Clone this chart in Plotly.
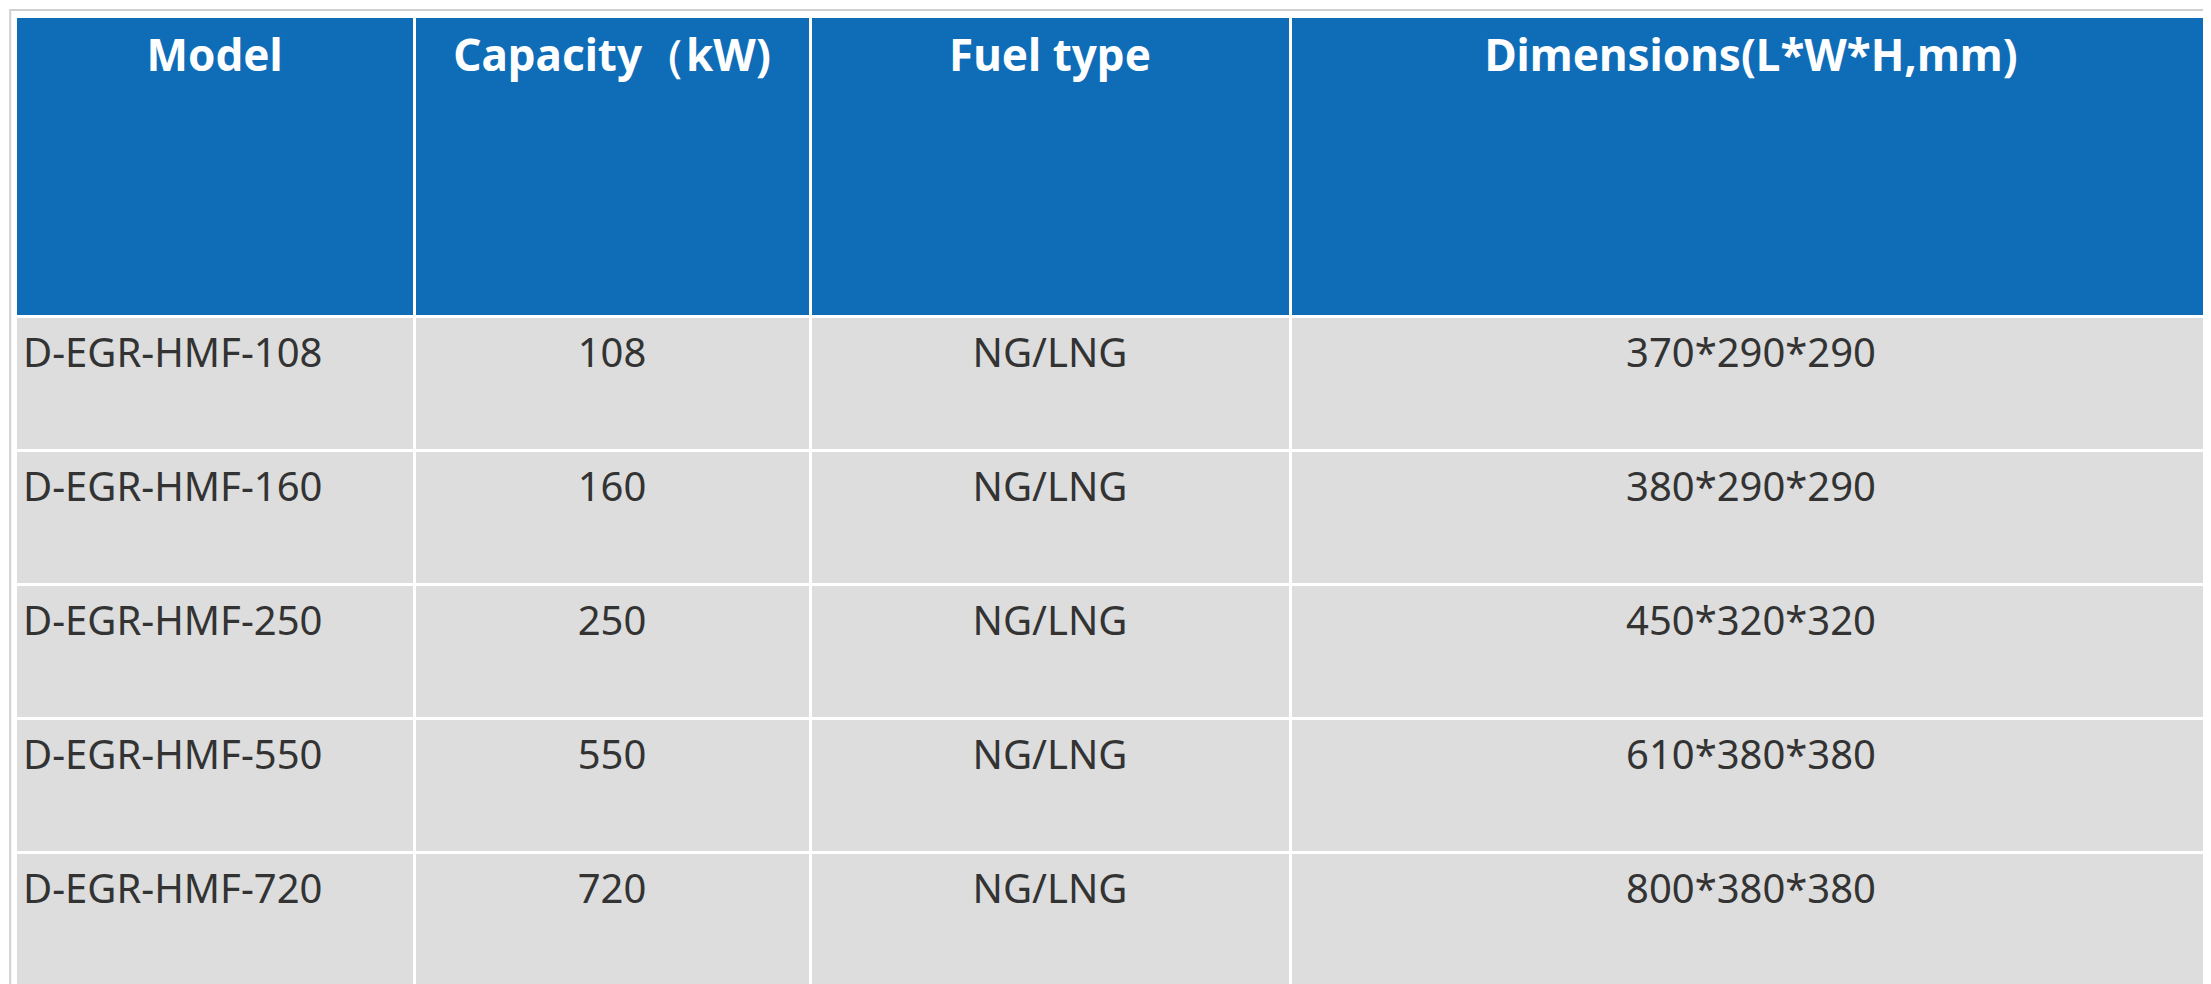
import plotly.graph_objects as go

headers = ["Model", "Capacity（kW)", "Fuel type", "Dimensions(L*W*H,mm)"]
models = ["D-EGR-HMF-108", "D-EGR-HMF-160", "D-EGR-HMF-250", "D-EGR-HMF-550", "D-EGR-HMF-720"]
capacity = ["108", "160", "250", "550", "720"]
fuel = ["NG/LNG"] * 5
dims = ["370*290*290", "380*290*290", "450*320*320", "610*380*380", "800*380*380"]

fig = go.Figure(go.Table(
    domain=dict(x=[7/2211, 2204/2211], y=[4/984, 976/984]),
    columnwidth=[399, 396, 480, 922],
    header=dict(
        values=[f"<br><br><b>{h}</b>" for h in headers],
        fill_color="#0f6db8",
        line=dict(color="white", width=3),
        font=dict(family="Noto Sans", size=44, color="white"),
        align="center",
        height=300,
    ),
    cells=dict(
        values=[[f"<br>{v}" for v in col] for col in (models, capacity, fuel, dims)],
        fill_color="#dcdddc",
        line=dict(color="white", width=3),
        font=dict(family="Noto Sans", size=40, color="#333333"),
        align=["left", "center", "center", "center"],
        height=134,
    ),
))
fig.update_layout(
    width=2211, height=984,
    margin=dict(l=0, r=0, t=0, b=0),
    paper_bgcolor="white",
    shapes=[dict(type="rect", xref="paper", yref="paper", x0=0.001, x1=0.999, y0=0.002, y1=0.998,
                 line=dict(color="#d0d0d0", width=2))],
)
fig.write_html("out.html")
